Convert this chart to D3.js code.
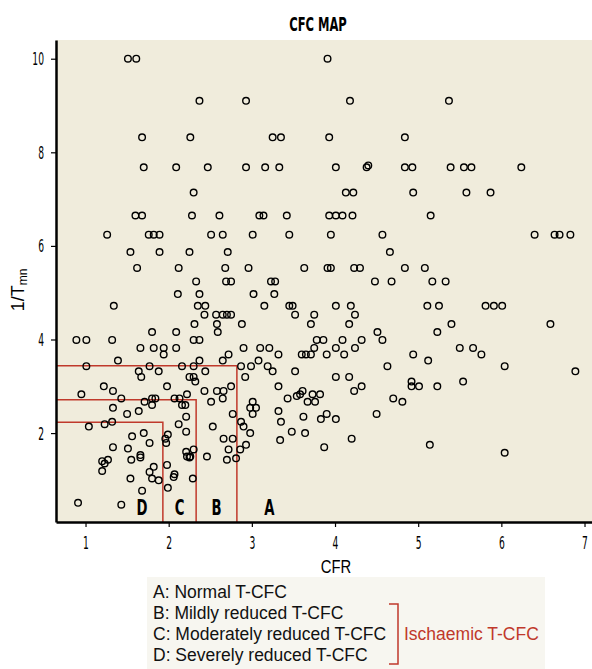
<!DOCTYPE html>
<html>
<head>
<meta charset="utf-8">
<script src="https://cdn.jsdelivr.net/npm/d3@7"></script>
<style>
  body { margin: 0; background: #fff; }
</style>
</head>
<body>
<div id="container"></div>
<script>
/* CONSTANTS AND GLOBALS */
const width = 592,
  height = 669,
  margin = ({top: 40, right: 0, bottom: 147, left: 56})

// 1/Tmn level of each row of points, and the CFR values found on that row
const tmnRows = [10, 9.1, 8.32, 7.68, 7.72, 7.14, 6.65, 6.24, 5.87, 5.53, 5.24, 4.97, 4.72, 4.53,
  4.33, 4.16, 3.99, 3.82, 3.68, 3.55, 3.43, 3.32, 3.2, 3.1, 3.0, 2.9, 2.83, 2.79, 2.74, 2.67,
  2.6, 2.54, 2.47, 2.41, 2.35, 2.3, 2.24, 2.19, 2.14, 2.03, 2.0, 1.97, 1.93, 1.88, 1.85, 1.79,
  1.75, 1.7, 1.67, 1.65, 1.6, 1.58, 1.53, 1.5, 1.48, 1.46, 1.43, 1.4, 1.35, 1.32, 1.28, 1.19,
  1.17, 1.12, 1.06, 1.03, 0.99, 0.83, 0.77, 0.51, 0.47];

const cfrRows = [
  [1.51, 1.61, 3.91],
  [2.37, 2.93, 4.18, 5.37],
  [1.68, 2.26, 3.25, 3.35, 3.93, 4.84],
  [1.70, 2.09, 2.47, 2.93, 3.16, 3.33, 4.01, 4.38, 4.84, 4.93, 5.39, 5.55, 5.64, 6.24],
  [4.40],
  [2.30, 4.13, 4.22, 4.94, 5.58, 5.87],
  [1.60, 1.68, 2.28, 2.61, 3.09, 3.14, 3.42, 3.93, 4.01, 4.09, 4.21, 5.15],
  [1.26, 1.76, 1.82, 1.89, 2.51, 2.65, 3.01, 3.45, 3.95, 4.57, 6.40, 6.64, 6.70, 6.83],
  [1.54, 1.89, 2.25, 2.71, 4.66],
  [1.62, 2.12, 2.68, 2.96, 3.63, 3.91, 3.95, 4.23, 4.30, 4.84, 5.08],
  [2.33, 2.69, 2.75, 3.23, 3.28, 4.48, 4.68, 5.17, 5.33],
  [2.11, 2.37, 3.02, 3.27],
  [1.34, 2.35, 2.44, 3.15, 3.45, 3.49, 4.01, 4.19, 5.11, 5.25, 5.81, 5.91, 6.01],
  [2.43, 2.57, 2.65, 2.70, 2.75, 3.52, 3.75, 4.24],
  [2.31, 2.58, 2.88, 3.71, 4.17, 5.40, 6.59],
  [1.80, 2.09, 2.59, 4.51, 5.23],
  [0.89, 1.01, 1.32, 2.30, 2.37, 3.78, 3.86, 4.09, 4.32, 4.57],
  [1.66, 1.82, 1.94, 2.09, 2.90, 3.10, 3.21, 3.75, 4.01, 4.24, 5.50, 5.66],
  [1.94, 2.72, 3.32, 3.60, 3.65, 3.71, 3.90, 4.11, 4.94, 5.76],
  [1.39, 2.37, 2.65, 3.08, 5.12],
  [1.01, 1.77, 2.16, 2.30, 2.87, 2.99, 3.19, 4.63, 6.04],
  [1.64, 1.88, 2.44, 3.25, 3.52, 6.89],
  [1.67, 2.25, 2.30, 2.92, 4.01, 4.17],
  [2.32, 4.92, 5.54],
  [1.22, 1.98, 2.75, 3.32, 4.32, 4.92, 5.01, 5.23],
  [1.33, 2.43, 2.58, 2.66, 3.61, 4.23],
  [0.95, 2.22, 3.58, 3.73, 3.82],
  [3.54],
  [1.43, 1.80, 1.84, 2.07, 2.13, 2.65, 3.43, 4.70],
  [1.71, 2.51, 3.01, 3.67, 3.76, 4.81],
  [1.80, 2.16, 2.20],
  [1.33, 2.98, 3.05],
  [1.64, 3.32],
  [1.50, 2.77, 3.01, 3.90, 4.50],
  [2.21, 3.62],
  [3.83, 4.01],
  [1.32, 2.87, 3.35],
  [1.23, 2.12],
  [1.04, 2.53, 2.90],
  [2.21, 3.48],
  [1.70, 2.98, 3.64],
  [1.99],
  [1.56],
  [1.96, 2.66, 2.77, 4.20],
  [3.34],
  [1.77, 1.97],
  [2.93, 5.14],
  [1.33, 3.87],
  [1.51],
  [2.30, 2.72, 2.86],
  [2.21],
  [6.04],
  [1.66],
  [2.22, 2.26, 2.46],
  [1.66, 2.25],
  [2.81],
  [1.27, 1.55, 2.70],
  [1.20],
  [1.23],
  [1.98],
  [1.82],
  [1.20],
  [1.77],
  [2.07],
  [2.06],
  [1.54, 1.80, 2.29],
  [1.88],
  [1.99],
  [1.68],
  [0.91],
  [1.43]
];

// category boundaries (D, C, B) and the region letters
const cfrCuts = [1.93, 2.33, 2.82];
const tmnCuts = [2.23, 2.71, 3.44];
const regionLabels = ["D", "C", "B", "A"];
const regionLabelCfr = [1.68, 2.13, 2.575, 3.21];

const xTicks = [1, 2, 3, 4, 5, 6, 7];
const yTicks = [2, 4, 6, 8, 10];

const legendLines = ["A: Normal T-CFC", "B: Mildly reduced T-CFC",
  "C: Moderately reduced T-CFC", "D: Severely reduced T-CFC"];
const bracketText = "Ischaemic T-CFC";

const red = "#c0392b";
const narrow = "'DejaVu Sans Condensed', sans-serif";
const plain = "'Liberation Sans', Arial, sans-serif";

const points = tmnRows.flatMap((t, i) => cfrRows[i].map(c => ({cfr: c, tmn: t})));

const x = d3.scaleLinear()
  .domain([0.645, 7.09])
  .range([margin.left, width - margin.right]);

const y = d3.scaleLinear()
  .domain([0.1, 10.4])
  .range([height - margin.bottom, margin.top]);

const svg = d3.select("#container")
  .append("svg")
  .attr("width", width)
  .attr("height", height);

// squeeze a text horizontally around its own anchor point (no condensed font is installed)
const squeeze = (sel, k) => sel.each(function() {
  const t = d3.select(this);
  const px = +t.attr("x") || 0, py = +t.attr("y") || 0;
  t.attr("x", 0).attr("y", 0)
    .attr("transform", `translate(${px},${py}) scale(${k},1)`);
});

// plot background
svg.append("rect")
  .attr("x", x.range()[0])
  .attr("y", y.range()[1])
  .attr("width", x.range()[1] - x.range()[0])
  .attr("height", y.range()[0] - y.range()[1])
  .attr("fill", "#f0ecdc");

// title
svg.append("text")
  .attr("x", 318)
  .attr("y", 31)
  .attr("text-anchor", "middle")
  .attr("font-family", narrow)
  .attr("font-weight", "bold")
  .attr("font-size", 20)
  .text("CFC MAP")
  .call(squeeze, 0.64);

// region outlines
const regions = svg.append("g")
  .attr("stroke", red)
  .attr("stroke-width", 1.5)
  .attr("fill", "none");

regions.selectAll("path")
  .data(cfrCuts.map((c, i) => ({c, t: tmnCuts[i]})))
  .join("path")
  .attr("d", d => `M${x.range()[0]},${y(d.t)}H${x(d.c)}V${y.range()[0]}`);

svg.append("g")
  .selectAll("text")
  .data(regionLabels)
  .join("text")
  .attr("x", (d, i) => x(regionLabelCfr[i]))
  .attr("y", y(0.26))
  .attr("text-anchor", "middle")
  .attr("font-family", narrow)
  .attr("font-weight", "bold")
  .attr("font-size", 21)
  .text(d => d)
  .call(squeeze, 0.7);

// points
svg.append("g")
  .attr("fill", "none")
  .attr("stroke", "#000")
  .attr("stroke-width", 1.4)
  .selectAll("circle")
  .data(points)
  .join("circle")
  .attr("cx", d => x(d.cfr))
  .attr("cy", d => y(d.tmn))
  .attr("r", 3.3);

// axes
const xAxis = svg.append("g")
  .attr("transform", `translate(0,${y.range()[0]})`)
  .call(d3.axisBottom(x).tickValues(xTicks).tickFormat(d3.format("d")).tickSize(5).tickSizeOuter(0));

const yAxis = svg.append("g")
  .attr("transform", `translate(${x.range()[0]},0)`)
  .call(d3.axisLeft(y).tickValues(yTicks).tickFormat(d3.format("d")).tickSize(5).tickSizeOuter(0));

[xAxis, yAxis].forEach(g => {
  g.select(".domain").attr("stroke-width", 2.5);
  g.selectAll(".tick line").attr("stroke-width", 1.2);
  g.selectAll(".tick text")
    .attr("font-family", narrow)
    .attr("font-size", 17)
    .attr("fill", "#000");
});
xAxis.selectAll(".tick text").attr("dy", null).attr("y", 27).call(squeeze, 0.6);
yAxis.selectAll(".tick text").attr("dy", null).attr("x", -12).attr("y", 6).call(squeeze, 0.6);

// axis labels
svg.append("text")
  .attr("x", 336)
  .attr("y", 573)
  .attr("text-anchor", "middle")
  .attr("font-family", plain)
  .attr("font-size", 19)
  .text("CFR")
  .call(squeeze, 0.78);

const yLabel = svg.append("text")
  .attr("transform", "translate(24,290) rotate(-90)")
  .attr("text-anchor", "middle")
  .attr("font-family", plain)
  .attr("font-size", 18);
yLabel.append("tspan").text("1/T");
yLabel.append("tspan").attr("font-size", 12).attr("dy", 3).text("mn");

// legend
svg.append("rect")
  .attr("x", 147)
  .attr("y", 577)
  .attr("width", 398)
  .attr("height", 92)
  .attr("fill", "#f7f6f0");

svg.append("g")
  .selectAll("text")
  .data(legendLines)
  .join("text")
  .attr("x", 153)
  .attr("y", (d, i) => 598 + i * 21)
  .attr("font-family", plain)
  .attr("font-size", 17.5)
  .attr("fill", "#111")
  .text(d => d);

svg.append("path")
  .attr("d", "M389,604H398V664H389")
  .attr("fill", "none")
  .attr("stroke", red)
  .attr("stroke-width", 1.5);

svg.append("text")
  .attr("x", 404)
  .attr("y", 640)
  .attr("font-family", plain)
  .attr("font-size", 17.5)
  .attr("fill", red)
  .text(bracketText);
</script>
</body>
</html>
